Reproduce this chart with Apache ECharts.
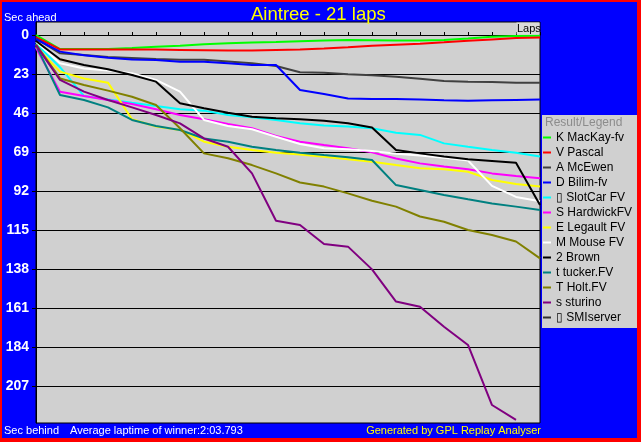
<!DOCTYPE html>
<html><head><meta charset="utf-8">
<script src="https://cdn.jsdelivr.net/npm/echarts@6/dist/echarts.min.js"></script>
<style>html,body{margin:0;padding:0;background:#0000ff}#c{width:641px;height:442px}</style>
</head><body><div id="c"></div>
<script>
const laps = [0,1,2,3,4,5,6,7,8,9,10,11,12,13,14,15,16,17,18,19,20,21];
const yTicks = [0,23,46,69,92,115,138,161,184,207];
const driverNames = ['K MacKay-fv','V Pascal','A McEwen','D Bilim-fv','\u25AF SlotCar FV','S HardwickFV','E Legault FV','M Mouse FV','2 Brown','t tucker.FV','T Holt.FV','s sturino','\u25AF SMIserver'];
const driverColors = ['#00ff00','#ff0000','#404040','#0000ff','#00ffff','#ff00ff','#ffff00','#ffffff','#000000','#008080','#808000','#800080','#303030'];

const mackay   = [0, 8.3, 8.3, 8.2, 7.6, 6.9, 6.3, 5.5, 4.9, 4.4, 4.1, 3.7, 3.3, 2.9, 3.1, 3.3, 3.3, 2.9, 2.0, 1.0, 0.6, 0.4];
const pascal   = [1.2, 8.5, 8.5, 8.5, 8.5, 8.6, 8.8, 9.0, 9.2, 9.2, 8.8, 8.6, 8.0, 7.2, 6.3, 5.7, 5.1, 4.3, 3.4, 2.6, 1.8, 1.4];
const mcewen   = [2, 10.8, 11.8, 13.0, 13.6, 14.2, 14.6, 14.6, 15.6, 16.6, 18.3, 22.0, 22.2, 23.2, 23.8, 24.6, 25.8, 27.1, 27.5, 27.7, 28.1, 28.1];
const bilim    = [2.5, 9.8, 12.0, 13.4, 14.4, 14.8, 15.8, 15.8, 16.7, 17.7, 17.7, 32.4, 34.8, 37.5, 37.7, 37.7, 38.1, 38.5, 38.7, 38.5, 38.3, 38.1];
const slotcar  = [5, 19.0, 36, 38, 40, 41.9, 43.8, 44.6, 47.2, 48.5, 50.1, 52.1, 53.3, 54, 55, 57.6, 58.9, 63.9, 65.9, 67.8, 69.4, 71.7];
const hardwick = [7.5, 33.4, 36, 38.3, 40.7, 43.8, 47.2, 49.7, 52.5, 55, 59.5, 62.9, 64.9, 66.8, 69.2, 72.8, 75.7, 77.6, 79.2, 81.6, 83.1, 84.5];
const legault  = [7, 21.6, 25.6, 28.1, 49.7, 54, 56, 62.9, 65.9, 67.8, 69.4, 70.4, 71.8, 73.3, 74.7, 76.7, 78.6, 79.2, 80.6, 85.5, 87.9, 89.4];
const mouse    = [4, 16.7, 19.7, 21, 22.6, 26.5, 33.4, 50.1, 53.7, 55.6, 60, 64.3, 66.8, 67.4, 68.4, 70.0, 71.0, 72.4, 74.0, 89, 95.5, 98];
const brown    = [3.5, 14.3, 17.7, 20.2, 23.6, 27.5, 40.3, 43.2, 45.8, 48.2, 49.1, 49.7, 50.5, 52.1, 54.5, 67.8, 69.8, 71.7, 73.3, 74.3, 75.3, 100.3];
const tucker   = [6, 35.4, 38.3, 42.7, 50.1, 53.7, 56, 61, 62.9, 65.9, 67.8, 69.4, 70.8, 72.1, 73.7, 88.5, 91.4, 94.3, 96.9, 99.3, 101.2, 103.2];
const holt     = [5.5, 25.6, 29.5, 32.8, 36.4, 41.3, 55, 69.8, 72.7, 76.7, 81.6, 87.0, 89.4, 93.4, 97.7, 101.2, 107, 110.1, 115, 117.9, 121.8, 131.7];
const sturino  = [6, 26.5, 33.4, 38.3, 42.7, 47.2, 52.1, 61, 65.9, 81.6, 109.5, 112, 123.2, 124.8, 138.2, 157.2, 160.2, 172, 182.8, 218.2, 227];
const smiserver = [];
const driverValues = [mackay, pascal, mcewen, bilim, slotcar, hardwick, legault, mouse, brown, tucker, holt, sturino, smiserver];

const FONT = 'Liberation Sans';
const chart = echarts.init(document.getElementById('c'), null, {renderer: 'canvas'});
const series = driverNames.map((name, i) => ({
  name: name,
  type: 'line',
  data: driverValues[i].map((v, j) => [laps[j], v]),
  showSymbol: false,
  symbol: 'none',
  lineStyle: {color: driverColors[i], width: 2},
  itemStyle: {color: driverColors[i]},
  animation: false,
  emphasis: {disabled: true}
}));

chart.setOption({
  backgroundColor: '#0000ff',
  animation: false,
  title: {
    text: 'Aintree - 21 laps',
    left: 251, top: 5, padding: 0,
    textStyle: {color: '#ffff00', fontSize: 18.5, fontWeight: 'normal', fontFamily: FONT}
  },
  grid: {
    left: 36, top: 22, width: 504, height: 401,
    show: true, backgroundColor: '#d0d0d0', borderColor: '#000000', borderWidth: 1,
    containLabel: false
  },
  xAxis: {
    type: 'value', min: 0, max: 21, interval: 1, position: 'top',
    axisLine: {show: true, onZero: true, lineStyle: {color: '#000000', width: 1}},
    axisTick: {show: true, length: 3, lineStyle: {color: '#000000'}},
    axisLabel: {show: false},
    splitLine: {show: false}
  },
  yAxis: {
    type: 'value', inverse: true, min: -7.67, max: 228.8,
    axisLine: {show: true, lineStyle: {color: '#000000', width: 1}},
    axisTick: {show: true, length: 4, customValues: yTicks, lineStyle: {color: '#000000'}},
    axisLabel: {show: true, customValues: yTicks, color: '#ffffff', fontWeight: 'bold', fontSize: 14, fontFamily: FONT, margin: 7},
    splitLine: {show: true, lineStyle: {color: '#000000', width: 1}}
  },
  legend: {
    orient: 'vertical', left: 543, top: 130,
    icon: 'rect', itemWidth: 8, itemHeight: 2, itemGap: 0, padding: 0,
    selectedMode: false,
    data: driverNames,
    textStyle: {color: '#000000', fontSize: 12, fontFamily: FONT, lineHeight: 15}
  },
  graphic: [
    {type: 'rect', z: -5, shape: {x: 0, y: 0, width: 641, height: 2}, style: {fill: '#ff0000'}},
    {type: 'rect', z: -5, shape: {x: 0, y: 0, width: 2, height: 442}, style: {fill: '#ff0000'}},
    {type: 'rect', z: -5, shape: {x: 637, y: 0, width: 4, height: 442}, style: {fill: '#ff0000'}},
    {type: 'rect', z: -5, shape: {x: 0, y: 438, width: 641, height: 4}, style: {fill: '#ff0000'}},
    {type: 'rect', z: -5, shape: {x: 542, y: 115, width: 95, height: 213}, style: {fill: '#d0d0d0'}},
    {type: 'text', x: 545, y: 123, style: {text: 'Result/Legend', fill: '#8c8c8c', font: '12px "Liberation Sans"', textVerticalAlign: 'middle'}},
    {type: 'rect', z: 5, shape: {x: 516.5, y: 22.5, width: 23, height: 12}, style: {fill: '#dadada'}},
    {type: 'text', z: 6, x: 517, y: 29, style: {text: 'Laps', fill: '#000000', font: '11px "Liberation Sans"', textVerticalAlign: 'middle'}},
    {type: 'text', x: 4, y: 18, style: {text: 'Sec ahead', fill: '#ffffff', font: '11px "Liberation Sans"', textVerticalAlign: 'middle'}},
    {type: 'text', x: 4, y: 431, style: {text: 'Sec behind', fill: '#ffffff', font: '11px "Liberation Sans"', textVerticalAlign: 'middle'}},
    {type: 'text', x: 70, y: 431, style: {text: 'Average laptime of winner:2:03.793', fill: '#ffffff', font: '11px "Liberation Sans"', textVerticalAlign: 'middle'}},
    {type: 'text', x: 541, y: 431, style: {text: 'Generated by GPL Replay Analyser', fill: '#ffff00', font: '11px "Liberation Sans"', textAlign: 'right', textVerticalAlign: 'middle'}}
  ],
  series: series
});
</script>
</body></html>
